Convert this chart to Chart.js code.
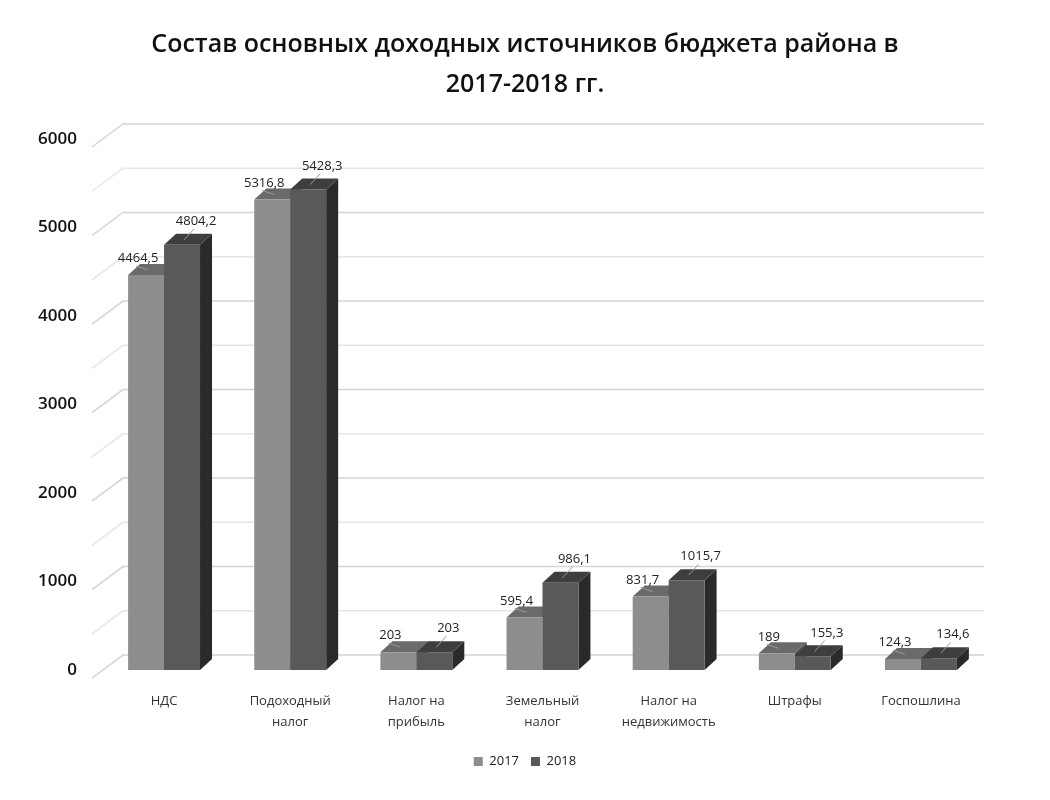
<!DOCTYPE html>
<html><head><meta charset="utf-8">
<script src="https://cdn.jsdelivr.net/npm/chart.js@4.4.1/dist/chart.umd.min.js"></script>
<style>html,body{margin:0;padding:0;background:#fff}#wrap{width:1050px;height:800px}</style>
</head><body><div id="wrap"><canvas id="c"></canvas></div>
<script>
const categories = [['НДС'], ['Подоходный','налог'], ['Налог на','прибыль'], ['Земельный','налог'], ['Налог на','недвижимость'], ['Штрафы'], ['Госпошлина']];
const values2017 = [4464.5, 5316.8, 203, 595.4, 831.7, 189, 124.3];
const values2018 = [4804.2, 5428.3, 203, 986.1, 1015.7, 155.3, 134.6];
const seriesNames = ['2017', '2018'];
const yTicks = [0, 1000, 2000, 3000, 4000, 5000, 6000];

const FRONT = ['#8d8d8d', '#595959'];
const TOP = ['#6a6a6a', '#3e3e3e'];
const SIDE = ['#4a4a4a', '#2a2a2a'];
const DX = 12, DY = 11;

const fmt = v => String(v).replace('.', ',');

const wallPlugin = {
  id: 'wall',
  beforeDatasetsDraw(chart) {
    const {ctx, chartArea, scales} = chart;
    const y = scales.y;
    ctx.save();
    for (let v = 0; v <= 6000; v += 500) {
      const py = y.getPixelForValue(v);
      ctx.strokeStyle = v % 1000 === 0 ? '#d4d4d4' : '#e6e6e6';
      ctx.lineWidth = 1.5;
      ctx.beginPath();
      ctx.moveTo(chartArea.left - 9, py + 8);
      ctx.lineTo(chartArea.left + 22, py - 15);
      ctx.lineTo(chartArea.right, py - 15);
      ctx.stroke();
    }
    const n = chart.data.labels.length;
    for (let i = 0; i < n; i++) {
      for (let d = 0; d < 2; d++) {
        const el = chart.getDatasetMeta(d).data[i];
        const l = el.x - el.width / 2, r = el.x + el.width / 2, t = el.y, b = el.base;
        ctx.fillStyle = SIDE[d];
        ctx.beginPath();
        ctx.moveTo(r, t); ctx.lineTo(r + DX, t - DY); ctx.lineTo(r + DX, b - DY); ctx.lineTo(r, b); ctx.closePath();
        ctx.fill();
        ctx.fillStyle = TOP[d];
        ctx.beginPath();
        ctx.moveTo(l, t); ctx.lineTo(r, t); ctx.lineTo(r + DX, t - DY); ctx.lineTo(l + DX, t - DY); ctx.closePath();
        ctx.fill();
      }
    }
    ctx.restore();
  },
  afterDatasetsDraw(chart) {
    const {ctx} = chart;
    ctx.save();
    ctx.font = '13px "Open Sans", sans-serif';
    ctx.fillStyle = '#222';
    ctx.textAlign = 'center';
    ctx.textBaseline = 'bottom';
    ctx.strokeStyle = '#999';
    ctx.lineWidth = 1;
    for (let d = 0; d < 2; d++) {
      const meta = chart.getDatasetMeta(d);
      meta.data.forEach((el, i) => {
        const v = chart.data.datasets[d].data[i];
        const tx = d === 0 ? el.x - 8 : el.x + 14;
        const ty = d === 0 ? el.y - 10 : el.y - 17;
        ctx.fillText(fmt(v), tx, ty);
        ctx.beginPath();
        ctx.moveTo(tx - 2, ty + 1);
        ctx.lineTo(el.x + 2, el.y - 5);
        ctx.stroke();
      });
    }
    ctx.restore();
  }
};

new Chart(document.getElementById('c'), {
  type: 'bar',
  data: {
    labels: categories,
    datasets: [
      {label: seriesNames[0], data: values2017, backgroundColor: FRONT[0]},
      {label: seriesNames[1], data: values2018, backgroundColor: FRONT[1]}
    ]
  },
  options: {
    responsive: true,
    maintainAspectRatio: false,
    animation: false,
    categoryPercentage: 0.57,
    barPercentage: 1.0,
    layout: {padding: {left: 26, right: 26, top: 8, bottom: 22}},
    plugins: {
      title: {
        display: true,
        text: ['Состав основных доходных источников бюджета района в', '2017-2018 гг.'],
        font: {family: '"Open Sans", sans-serif', size: 25, weight: '600', lineHeight: 1.6},
        color: '#111',
        padding: {top: 17, bottom: 34}
      },
      legend: {
        position: 'bottom',
        labels: {boxWidth: 9, boxHeight: 9, color: '#222', font: {family: '"Open Sans", sans-serif', size: 13}, padding: 12}
      },
      tooltip: {enabled: false}
    },
    scales: {
      x: {
        afterFit(s) { s.height = s.height - 10; },
        grid: {display: false, drawTicks: false},
        border: {display: false},
        ticks: {color: '#333', font: {family: '"Open Sans", sans-serif', size: 13, lineHeight: 1.65}, padding: 20, maxRotation: 0}
      },
      y: {
        min: 0, max: 6000,
        afterBuildTicks(s) { s.ticks = yTicks.map(v => ({value: v})); },
        afterFit(s) { s.width = 75; },
        grid: {display: false, drawTicks: false},
        border: {display: false},
        ticks: {color: '#111', font: {family: '"Open Sans", sans-serif', size: 17, weight: '600'}, padding: 24,
          callback: v => String(v)}
      },
      y2: {
        position: 'right',
        min: 0, max: 6000,
        afterFit(s) { s.width = 40; },
        grid: {display: false, drawTicks: false},
        border: {display: false},
        ticks: {display: false}
      }
    }
  },
  plugins: [wallPlugin]
});
</script>
</body></html>
